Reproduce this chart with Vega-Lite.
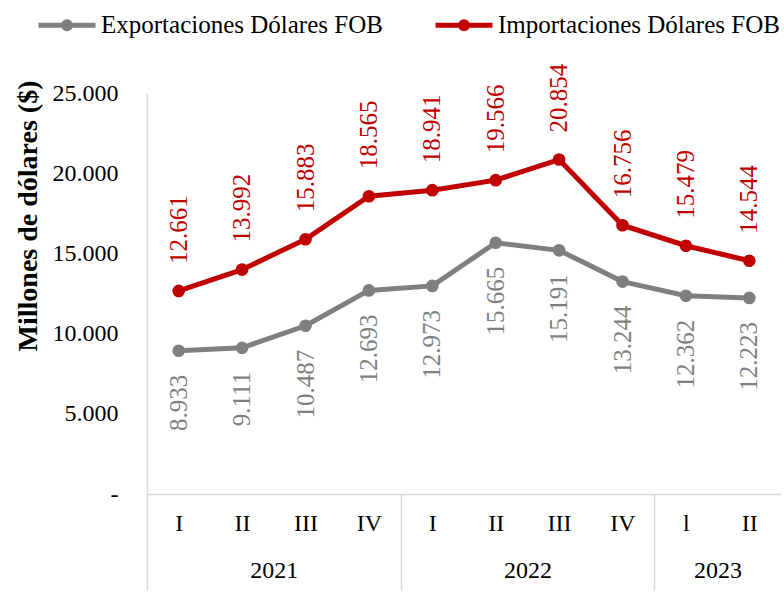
{
  "$schema": "https://vega.github.io/schema/vega-lite/v6.json",
  "width": 634,
  "height": 401,
  "autosize": {"type": "none"},
  "padding": {"left": 147, "top": 93, "right": 3, "bottom": 99},
  "background": "white",
  "config": {
    "font": "Liberation Serif",
    "view": {"stroke": null},
    "axis": {"grid": false, "labelFont": "Liberation Serif", "labelColor": "black", "labelFontSize": 24, "labelFlush": false, "labelOverlap": false},
    "locale": {"number": {"decimal": ",", "thousands": ".", "grouping": [3], "currency": ["$", ""]}}
  },
  "data": {
    "values": [
      {"idx": 0, "series": "Exportaciones Dólares FOB", "value": 8933},
      {"idx": 1, "series": "Exportaciones Dólares FOB", "value": 9111},
      {"idx": 2, "series": "Exportaciones Dólares FOB", "value": 10487},
      {"idx": 3, "series": "Exportaciones Dólares FOB", "value": 12693},
      {"idx": 4, "series": "Exportaciones Dólares FOB", "value": 12973},
      {"idx": 5, "series": "Exportaciones Dólares FOB", "value": 15665},
      {"idx": 6, "series": "Exportaciones Dólares FOB", "value": 15191},
      {"idx": 7, "series": "Exportaciones Dólares FOB", "value": 13244},
      {"idx": 8, "series": "Exportaciones Dólares FOB", "value": 12362},
      {"idx": 9, "series": "Exportaciones Dólares FOB", "value": 12223},
      {"idx": 0, "series": "Importaciones Dólares FOB", "value": 12661},
      {"idx": 1, "series": "Importaciones Dólares FOB", "value": 13992},
      {"idx": 2, "series": "Importaciones Dólares FOB", "value": 15883},
      {"idx": 3, "series": "Importaciones Dólares FOB", "value": 18565},
      {"idx": 4, "series": "Importaciones Dólares FOB", "value": 18941},
      {"idx": 5, "series": "Importaciones Dólares FOB", "value": 19566},
      {"idx": 6, "series": "Importaciones Dólares FOB", "value": 20854},
      {"idx": 7, "series": "Importaciones Dólares FOB", "value": 16756},
      {"idx": 8, "series": "Importaciones Dólares FOB", "value": 15479},
      {"idx": 9, "series": "Importaciones Dólares FOB", "value": 14544}
    ]
  },
  "layer": [
    {
      "mark": {"type": "line", "strokeWidth": 5},
      "encoding": {
        "x": {
          "field": "idx", "type": "quantitative",
          "scale": {"domain": [-0.5, 9.5], "nice": false, "zero": false},
          "axis": {
            "orient": "bottom", "title": null,
            "values": [0, 1, 2, 3, 4, 5, 6, 7, 8, 9],
            "labelExpr": "['I','II','III','IV','I','II','III','IV','l','II'][datum.value]",
            "ticks": false, "domainColor": "#d9d9d9", "domainWidth": 1.5, "labelPadding": 17
          }
        },
        "y": {
          "field": "value", "type": "quantitative",
          "scale": {"domain": [0, 25000], "nice": false},
          "axis": {
            "values": [0, 5000, 10000, 15000, 20000, 25000],
            "labelExpr": "datum.value == 0 ? '-\u00a0\u00a0' : datum.label",
            "format": ",.0f",
            "ticks": false, "domainColor": "#d9d9d9", "domainWidth": 1.5, "labelPadding": 29,
            "title": "Millones de dólares ($)", "titleFontSize": 28, "titleFontWeight": "bold", "titleColor": "black",
            "titleFont": "Liberation Serif", "titleAnchor": "end", "titleY": -13, "titlePadding": 10
          }
        },
        "stroke": {
          "field": "series", "type": "nominal",
          "scale": {"domain": ["Exportaciones Dólares FOB", "Importaciones Dólares FOB"], "range": ["#7f7f7f", "#c00000"]},
          "legend": {
            "orient": "none", "legendX": -111, "legendY": -99, "direction": "horizontal", "title": null,
            "symbolType": "M-1,0H1M0.12,0A0.12,0.12 0 1,1 -0.12,0A0.12,0.12 0 1,1 0.12,0",
            "symbolSize": 3249, "symbolStrokeWidth": 5,
            "labelFontSize": 25, "labelFont": "Liberation Serif", "labelColor": "black",
            "labelOffset": 3, "columnPadding": 42, "labelLimit": 400
          }
        }
      }
    },
    {
      "mark": {"type": "point", "filled": true, "opacity": 1, "size": 160},
      "encoding": {
        "x": {
          "field": "idx", "type": "quantitative",
          "axis": {
            "orient": "bottom", "title": null,
            "values": [1.5, 5.5, 8.5],
            "labelExpr": "datum.value < 3 ? '2021' : (datum.value < 7 ? '2022' : '2023')",
            "ticks": false, "domain": false, "labelPadding": 64
          }
        },
        "y": {"field": "value", "type": "quantitative"},
        "fill": {
          "field": "series", "type": "nominal",
          "scale": {"domain": ["Exportaciones Dólares FOB", "Importaciones Dólares FOB"], "range": ["#7f7f7f", "#c00000"]},
          "legend": null
        }
      }
    },
    {
      "transform": [{"filter": "datum.series == 'Importaciones Dólares FOB'"}],
      "mark": {"type": "text", "angle": 270, "align": "left", "baseline": "middle", "dx": 27, "fontSize": 25, "font": "Liberation Serif"},
      "encoding": {
        "x": {
          "field": "idx", "type": "quantitative",
          "axis": {
            "orient": "bottom", "title": null,
            "values": [-0.5, 3.5, 7.5],
            "labels": false, "domain": false, "ticks": true, "tickSize": 96, "tickColor": "#d9d9d9", "tickWidth": 1.5
          }
        },
        "y": {"field": "value", "type": "quantitative"},
        "text": {"field": "value", "type": "quantitative", "format": ",.0f"},
        "fill": {"field": "series", "type": "nominal", "legend": null}
      }
    },
    {
      "transform": [{"filter": "datum.series == 'Exportaciones Dólares FOB'"}],
      "mark": {"type": "text", "angle": 270, "align": "right", "baseline": "middle", "dx": -24, "fontSize": 25, "font": "Liberation Serif"},
      "encoding": {
        "x": {"field": "idx", "type": "quantitative", "axis": null},
        "y": {"field": "value", "type": "quantitative"},
        "text": {"field": "value", "type": "quantitative", "format": ",.0f"},
        "fill": {"field": "series", "type": "nominal", "legend": null}
      }
    }
  ],
  "resolve": {"axis": {"x": "independent"}}
}
